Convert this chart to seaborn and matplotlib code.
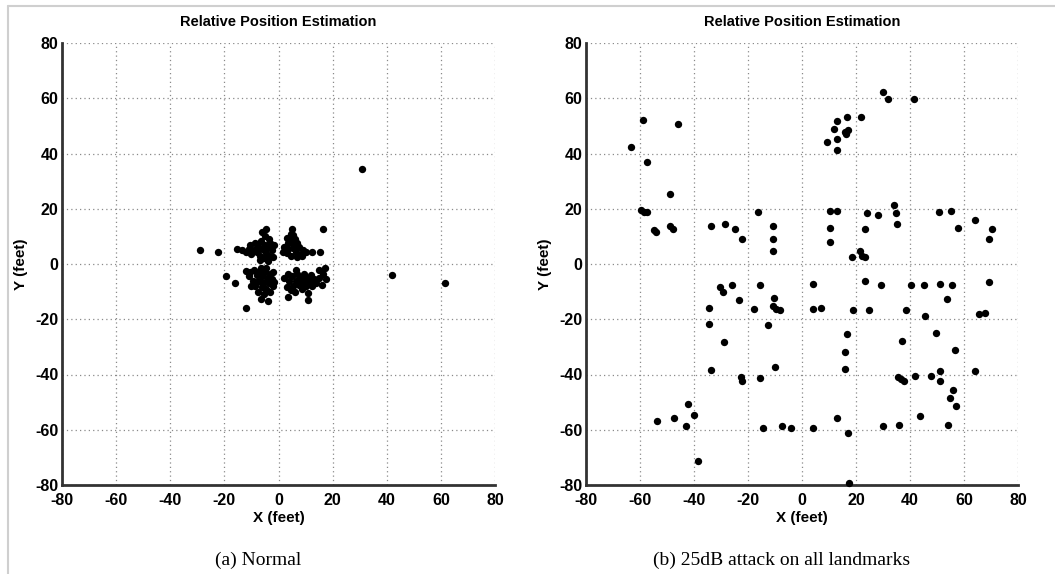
import matplotlib
matplotlib.use("Agg")
import matplotlib.pyplot as plt
from matplotlib.lines import Line2D
import numpy as np
import pandas as pd
import seaborn as sns

# ---- estimated positions, normal operation (feet) ----
normal_x = [
    # upper-left group
    -15.5, -13.5, -12.0, -11.0, -10.0, -9.0, -8.0, -7.5, -7.0, -6.5, -6.0, -6.0, -5.5, -5.0,
    -5.0, -4.5, -4.5, -4.0, -4.0, -3.5, -3.5, -3.0, -2.5, -2.0, -1.5, -8.5, -10.5, -6.8,
    # upper-right group
    5.0, 4.5, 5.5, 4.0, 6.0, 3.5, 5.0, 7.0, 2.0, 3.5, 5.5, 7.5, 9.0, 10.0, 1.5, 3.0,
    6.5, 8.5, 8.8, 4.5, 7.0, 3.0,
    # lower-left group
    -12.0, -11.0, -10.5, -9.5, -9.0, -8.5, -8.0, -7.5, -7.0, -7.0, -6.5, -6.0, -6.0, -5.5,
    -5.0, -5.0, -4.5, -4.0, -4.0, -3.5, -3.0, -3.0, -2.5, -2.0, -1.5, -6.5, -10.0, -8.0,
    -4.5, -2.0,
    # lower-right group
    2.0, 3.5, 4.0, 5.0, 5.5, 6.0, 6.5, 7.0, 7.5, 8.0, 8.5, 9.0, 9.5, 10.0, 10.5, 11.0,
    11.5, 12.0, 12.5, 13.0, 14.0, 15.0, 15.0, 16.0, 16.5, 17.0, 17.5, 6.5, 4.5, 3.0,
    # scattered
    -29.0, -22.5, -19.5, -16.0, -12.0, 3.5, 11.0, 16.5, 12.5, 15.5, 31.0, 42.0, 61.5,
]
normal_y = [
    5.5, 5.0, 4.5, 5.5, 3.8, 5.0, 4.2, 6.5, 3.0, 8.5, 11.5, 5.5, 2.0, 7.0,
    10.0, 4.0, 12.5, 1.0, 6.0, 9.0, 3.0, 7.5, 5.0, 2.5, 7.0, 7.5, 6.8, 1.5,
    12.5, 11.0, 10.5, 9.0, 9.0, 7.5, 7.5, 7.5, 6.0, 5.5, 5.8, 6.0, 5.2, 4.5, 4.5, 4.0,
    4.2, 3.5, 2.8, 3.0, 2.5, 9.5,
    -2.5, -4.5, -3.0, -6.0, -2.0, -8.0, -4.0, -10.0, -6.0, -2.5, -1.5, -8.5, -4.5, -11.0,
    -6.5, -3.0, -9.0, -5.0, -13.5, -7.0, -3.5, -10.0, -5.5, -8.0, -6.5, -12.5, -8.0, -6.5,
    -1.5, -3.0,
    -5.0, -3.5, -6.0, -4.5, -8.0, -10.0, -6.0, -3.5, -7.5, -5.0, -9.0, -6.5, -3.5, -8.0,
    -5.0, -10.5, -6.5, -4.0, -8.0, -5.5, -7.0, -5.0, -2.0, -7.5, -3.5, -1.5, -5.5, -2.0,
    -9.5, -8.5,
    5.0, 4.2, -4.5, -7.0, -16.0, -12.0, -13.0, 12.5, 4.2, 4.2, 34.5, -4.0, -7.0,
]

# ---- estimated positions, 25dB attack on all landmarks (feet) ----
attack_x = [
    -59.0, -46.0, -63.5, -57.5, -49.0, -59.5, -58.4, -57.4, -55.0, -54.0, -49.0, -47.6,
    -33.7, -28.4, -24.9, -22.2, -16.2, -10.9, -10.9, -10.9,
    30.0, 32.0, 41.3, 16.6, 21.9, 12.8, 12.0, 17.0, 15.8, 16.2, 12.8, 9.2, 12.8,
    10.3, 12.9, 10.3, 10.3, 24.0, 28.0, 23.2, 34.2, 34.9, 35.2, 21.6, 18.6, 22.4, 23.2,
    50.9, 55.3, 57.8, 64.2, 70.2, 69.2,
    -30.3, -29.3, -25.9, -15.7, -10.4, -10.8, -9.5, -8.3, -23.5, -17.9, -34.3, -34.3,
    -29.0, -12.6, -33.7, -22.7, -22.1, -15.6, -9.9, -42.4, -40.0, -47.5, -53.8, -42.8,
    -38.5, -14.4, -7.4, -4.0,
    4.2, 23.2, 29.4, 40.2, 45.3, 51.0, 55.7, 69.2, 53.7, 4.0, 7.0, 18.8, 24.7, 38.5,
    45.5, 65.4, 67.8, 16.6, 36.9, 49.7, 56.5, 15.8, 15.8, 35.4, 36.6, 37.8, 41.7, 47.7,
    51.0, 51.0, 63.9, 56.0, 54.8, 56.9, 43.6, 12.8, 4.0, 17.2, 30.0, 35.8, 54.2, 17.4,
]
attack_y = [
    52.0, 50.5, 42.5, 37.0, 25.5, 19.5, 19.0, 18.8, 12.2, 11.7, 13.6, 12.7,
    13.6, 14.6, 12.7, 8.9, 18.9, 13.6, 9.1, 4.6,
    62.2, 59.8, 59.8, 53.3, 53.3, 51.9, 48.9, 48.6, 47.8, 46.9, 45.4, 44.2, 41.4,
    19.1, 19.1, 13.0, 7.8, 18.4, 17.8, 12.6, 21.3, 18.4, 14.6, 4.8, 2.7, 2.9, 2.4,
    18.9, 19.1, 13.0, 15.9, 12.6, 9.1,
    -8.5, -10.1, -7.5, -7.5, -12.2, -15.2, -16.4, -16.6, -13.0, -16.3, -15.8, -21.6,
    -28.4, -22.0, -38.2, -41.0, -42.3, -41.1, -37.2, -50.8, -54.5, -55.8, -56.9, -58.8,
    -71.3, -59.4, -58.7, -59.4,
    -7.1, -6.2, -7.7, -7.7, -7.7, -7.1, -7.7, -6.5, -12.8, -16.3, -15.8, -16.6, -16.6, -16.6,
    -19.0, -18.1, -17.8, -25.5, -28.0, -25.0, -31.0, -32.0, -38.0, -41.0, -41.8, -42.2, -40.6, -40.6,
    -38.8, -42.2, -38.8, -45.5, -48.4, -51.3, -54.9, -55.8, -59.4, -61.2, -58.7, -58.2, -58.1, -79.2,
]

ticks = [-80, -60, -40, -20, 0, 20, 40, 60, 80]
panel_title = "Relative Position Estimation"
captions = ["(a) Normal", "(b) 25dB attack on all landmarks"]

sns.set_style("white")
plt.rcParams["font.family"] = ["Liberation Sans", "DejaVu Sans"]
plt.rcParams["axes.unicode_minus"] = False
for key in ("text.color", "axes.labelcolor", "xtick.labelcolor", "ytick.labelcolor"):
    plt.rcParams[key] = "black"

W, H = 1055, 574
fig = plt.figure(figsize=(W / 100, H / 100), dpi=100)
fig.patch.set_facecolor("white")

# axes boxes in pixels: (left, right, top, bottom)
boxes = [(62, 495, 43, 485), (586, 1018, 43, 485)]
frames = [
    pd.DataFrame({"x": normal_x, "y": normal_y}),
    pd.DataFrame({"x": attack_x, "y": attack_y}),
]
caption_x = [258, 782]

for (l, r, t, b), df, cap, cx in zip(boxes, frames, captions, caption_x):
    ax = fig.add_axes([l / W, 1 - b / H, (r - l) / W, (b - t) / H])
    sns.scatterplot(data=df, x="x", y="y", ax=ax, color="black", s=28,
                    linewidth=0, edgecolor="black", clip_on=False, zorder=3)
    ax.set_xlim(-80, 80)
    ax.set_ylim(-80, 80)
    ax.set_xticks(ticks)
    ax.set_yticks(ticks)
    ax.grid(True, linestyle=(0, (1, 2.5)), color="#8a8a8a", linewidth=0.9)
    ax.set_axisbelow(True)
    for side in ("top", "right"):
        ax.spines[side].set_visible(False)
    for side in ("left", "bottom"):
        ax.spines[side].set_color("#333333")
        ax.spines[side].set_linewidth(2.0)
    ax.tick_params(direction="in", length=4, width=1.2, color="#333333",
                   labelsize=11.5, pad=2.5)
    ax.tick_params(axis="x", pad=6)
    for lbl in ax.get_xticklabels() + ax.get_yticklabels():
        lbl.set_fontweight("bold")
    ax.set_xlabel("X (feet)", fontsize=11, fontweight="bold")
    ax.set_ylabel("Y (feet)", fontsize=11, fontweight="bold")
    ax.xaxis.set_label_coords(0.5, -0.058)
    ax.yaxis.set_label_coords(-0.078, 0.5)
    ax.set_title(panel_title, fontsize=10.5, fontweight="bold", pad=12)
    fig.text(cx / W, 1 - 560 / H, cap, ha="center", va="center",
             fontsize=14, family=["Liberation Serif", "DejaVu Serif"])

# thin light frame along the top and left of the figure
fig.add_artist(Line2D([8 / W, 1.0], [1 - 6 / H, 1 - 6 / H], color="#cfcfcf", linewidth=1.5))
fig.add_artist(Line2D([8 / W, 8 / W], [0.0, 1 - 6 / H], color="#cfcfcf", linewidth=1.5))

fig.savefig("out.png", dpi=100, facecolor="white")
